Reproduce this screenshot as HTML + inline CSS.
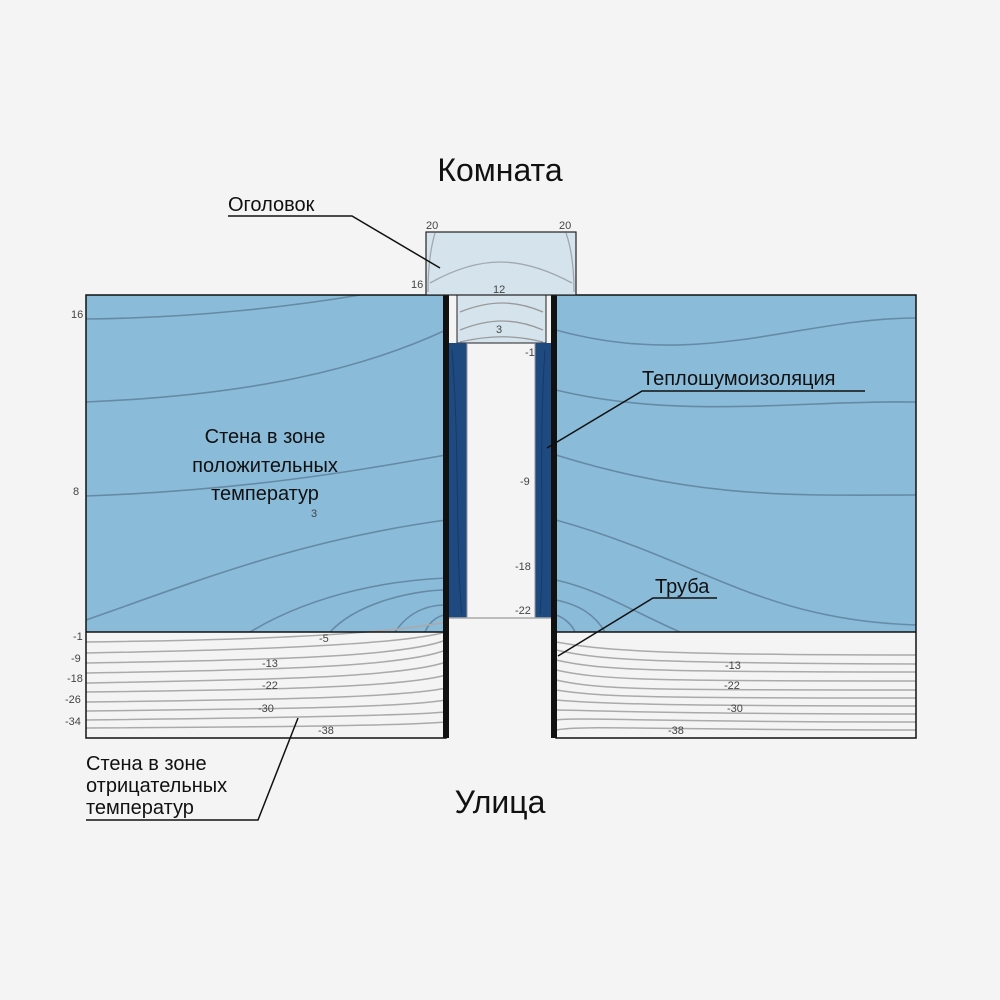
<!DOCTYPE html>
<html><head><meta charset="utf-8"><style>
html,body{margin:0;padding:0;background:#f4f4f4}
svg{display:block}
text{font-family:"Liberation Sans",sans-serif}
</style></head><body>
<svg width="1000" height="1000" viewBox="0 0 1000 1000" xmlns="http://www.w3.org/2000/svg">
<rect width="1000" height="1000" fill="#f4f4f4"/>
<!-- upper walls -->
<rect x="86" y="295" width="360" height="337" fill="#8abbd9"/>
<rect x="556" y="295" width="360" height="337" fill="#8abbd9"/>
<!-- lower walls -->
<rect x="86" y="632" width="360" height="106" fill="#f4f4f4"/>
<rect x="556" y="632" width="360" height="106" fill="#f4f4f4"/>
<g fill="none" stroke="#5c7f98" stroke-width="1.6" opacity="0.8">
<path d="M86,319 C200,318 300,305 360,295"/>
<path d="M86,402 C250,395 360,370 446,330"/>
<path d="M86,496 C250,490 360,470 446,455"/>
<path d="M86,620 C200,580 300,540 446,520"/>
<path d="M250,632 C320,590 400,580 446,578"/>
<path d="M330,632 C360,600 420,590 446,590"/>
<path d="M395,632 C410,610 430,605 446,605"/>
<path d="M425,632 C430,620 440,615 446,615"/>
<path d="M556,330 C700,370 800,318 916,318"/>
<path d="M556,390 C680,420 800,400 916,402"/>
<path d="M556,455 C700,500 800,495 916,495"/>
<path d="M556,520 C700,560 760,620 916,625"/>
<path d="M556,580 C600,590 630,610 680,632"/>
<path d="M556,600 C580,605 595,615 605,632"/>
<path d="M556,615 C565,618 572,625 575,632"/>
</g>
<g fill="none" stroke="#aaaaaa" stroke-width="1.5">
<path d="M86,642 C250,640 380,635 446,622"/>
<path d="M86,653 C250,650 400,645 446,632"/>
<path d="M86,663 C250,660 400,658 446,640"/>
<path d="M86,673 C250,670 400,668 446,650"/>
<path d="M86,683 C250,680 400,678 446,662"/>
<path d="M86,692 C250,690 400,688 446,675"/>
<path d="M86,702 C250,700 400,698 446,688"/>
<path d="M86,711 C250,709 400,708 446,700"/>
<path d="M86,720 C250,718 400,716 446,712"/>
<path d="M86,728 C250,727 400,726 446,722"/>
<path d="M556,642 C600,650 650,655 916,655"/>
<path d="M556,650 C600,660 650,663 916,664"/>
<path d="M556,660 C600,670 650,672 916,672"/>
<path d="M556,670 C600,680 650,681 916,681"/>
<path d="M556,680 C600,690 650,690 916,690"/>
<path d="M556,690 C600,697 650,698 916,698"/>
<path d="M556,700 C590,703 650,706 916,706"/>
<path d="M556,710 C580,710 650,714 916,714"/>
<path d="M556,720 C580,717 650,722 916,722"/>
<path d="M556,730 C580,725 650,730 916,730"/>
</g>
<rect x="86" y="295" width="360" height="443" fill="none" stroke="#111" stroke-width="1.5"/>
<rect x="556" y="295" width="360" height="443" fill="none" stroke="#111" stroke-width="1.5"/>
<line x1="86" y1="632" x2="446" y2="632" stroke="#111" stroke-width="1.5"/>
<line x1="556" y1="632" x2="916" y2="632" stroke="#111" stroke-width="1.5"/>
<!-- pipe interior -->
<rect x="449" y="295" width="102" height="443" fill="#f4f4f4"/>
<rect x="457" y="295" width="89" height="48" fill="#d5e3ec" stroke="#222" stroke-width="1"/>
<g fill="none" stroke="#999" stroke-width="1.3">
<path d="M460,312 C490,300 515,300 543,312"/>
<path d="M460,330 C490,318 515,318 543,330"/>
<path d="M460,342 C490,335 515,335 543,342"/>
</g>
<rect x="449" y="343" width="18" height="275" fill="#1f4a80"/>
<rect x="535" y="343" width="16" height="275" fill="#1f4a80"/>
<g stroke="#163a68" stroke-width="1" fill="none">
<path d="M452,350 C460,450 455,550 462,615"/><path d="M545,350 C538,450 545,550 540,615"/>
</g>
<line x1="467" y1="343" x2="467" y2="618" stroke="#999" stroke-width="1"/>
<line x1="535" y1="343" x2="535" y2="618" stroke="#999" stroke-width="1"/>
<line x1="449" y1="618" x2="551" y2="618" stroke="#aaa" stroke-width="1.5"/>
<rect x="443" y="295" width="6" height="443" fill="#111"/>
<rect x="551" y="295" width="6" height="443" fill="#111"/>
<!-- head cap -->
<rect x="426" y="232" width="150" height="63" fill="#d5e3ec" stroke="#222" stroke-width="1.2"/>
<g fill="none" stroke="#a0a8ae" stroke-width="1.3">
<path d="M435,233 C430,250 428,270 428,292"/>
<path d="M566,233 C572,250 574,270 574,292"/>
<path d="M430,283 C480,255 520,255 572,283"/>
</g>
<!-- leader lines -->
<g stroke="#111" stroke-width="1.5" fill="none">
<polyline points="228,216 352,216 440,268"/>
<polyline points="865,391 642,391 547,448"/>
<polyline points="717,598 653,598 558,656"/>
<polyline points="86,820 258,820 298,718"/>
</g>
<!-- labels -->
<g fill="#111">
<text x="500" y="181" font-size="32" text-anchor="middle">Комната</text>
<text x="500" y="813" font-size="32" text-anchor="middle">Улица</text>
<text x="228" y="211" font-size="20">Оголовок</text>
<text x="642" y="385" font-size="20">Теплошумоизоляция</text>
<text x="655" y="593" font-size="20">Труба</text>
<text x="265" y="443" font-size="20" text-anchor="middle">Стена в зоне</text>
<text x="265" y="472" font-size="20" text-anchor="middle">положительных</text>
<text x="265" y="500" font-size="20" text-anchor="middle">температур</text>
<text x="86" y="770" font-size="20">Стена в зоне</text>
<text x="86" y="792" font-size="20">отрицательных</text>
<text x="86" y="814" font-size="20">температур</text>
</g>
<g fill="#444" font-size="11">
<text x="426" y="229">20</text><text x="559" y="229">20</text>
<text x="411" y="288">16</text><text x="493" y="293">12</text><text x="496" y="333">3</text>
<text x="525" y="356">-1</text><text x="520" y="485">-9</text><text x="515" y="570">-18</text><text x="515" y="614">-22</text>
<text x="71" y="318">16</text><text x="73" y="495">8</text><text x="311" y="517">3</text>
<text x="73" y="640">-1</text><text x="71" y="662">-9</text><text x="67" y="682">-18</text><text x="65" y="703">-26</text><text x="65" y="725">-34</text>
<text x="319" y="642">-5</text><text x="262" y="667">-13</text><text x="262" y="689">-22</text><text x="258" y="712">-30</text><text x="318" y="734">-38</text>
<text x="725" y="669">-13</text><text x="724" y="689">-22</text><text x="727" y="712">-30</text><text x="668" y="734">-38</text>
</g>
</svg>
</body></html>
